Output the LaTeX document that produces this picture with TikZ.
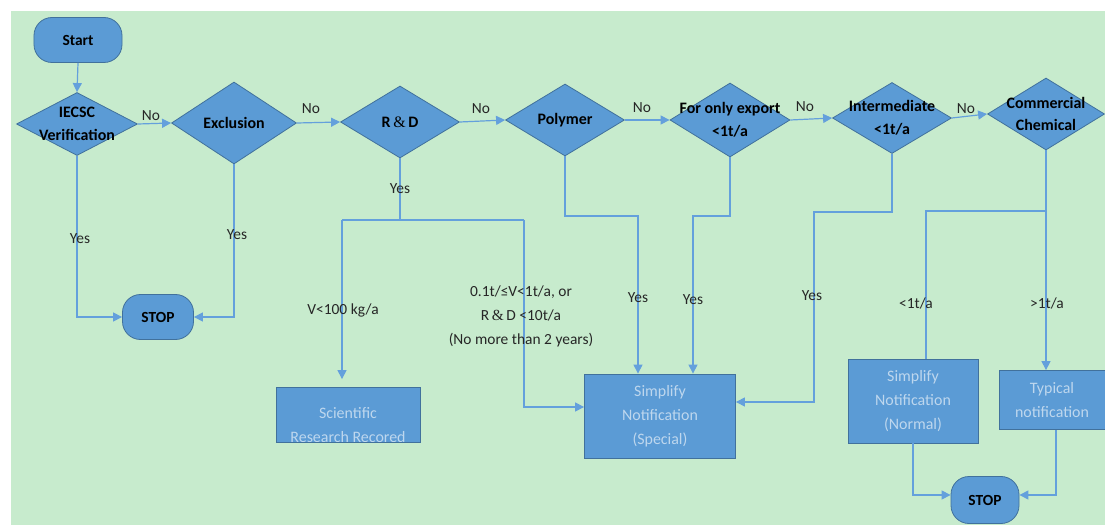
\documentclass[tikz,border=0pt]{standalone}
\usepackage{fontspec}
\setmainfont{Carlito}
\newfontfamily\ampfont{Liberation Serif}
\usetikzlibrary{shapes.geometric,arrows.meta}
\definecolor{bg}{RGB}{199,235,205}
\definecolor{boxfill}{RGB}{91,155,213}
\definecolor{boxdraw}{RGB}{65,113,156}
\definecolor{lineblue}{RGB}{100,160,220}
\definecolor{boxtext}{RGB}{190,215,238}
\newcommand{\RnD}{R\,{\ampfont\mdseries\&}\,D}
\begin{document}
\begin{tikzpicture}[x=1bp,y=-1bp,
 dec/.style={diamond, fill=boxfill, draw=boxdraw, line width=0.8bp, inner sep=0pt},
 dtext/.style={font=\fontsize{16}{23}\selectfont\bfseries, align=center, text=black, inner sep=0pt},
 term/.style={rectangle, rounded corners=18bp, fill=boxfill, draw=boxdraw, line width=0.8bp, font=\fontsize{15.5}{18}\selectfont\bfseries, inner sep=0pt},
 proc/.style={rectangle, fill=boxfill, draw=boxdraw, line width=0.8bp, font=\fontsize{16}{24}\selectfont, text=boxtext, align=center, inner sep=0pt},
 ln/.style={draw=lineblue, line width=1.2bp},
 arr/.style={ln, -{Triangle[length=9bp,width=9bp]}},
 lbl/.style={font=\fontsize{15.5}{24}\selectfont, text=black!85, align=center, inner sep=0pt}
]
\useasboundingbox (0,0) rectangle (1105,525);
\fill[bg] (11,11) rectangle (1105,525);

% terminators
\node[term, minimum width=88bp, minimum height=45bp] (start) at (78,40) {Start};
\node[term, minimum width=71bp, minimum height=45bp] (stop1) at (158,317) {STOP};
\node[term, minimum width=68bp, minimum height=47bp] (stop2) at (985,500) {STOP};

% decisions
\node[dec, minimum width=121bp, minimum height=63bp, label={[dtext]center:IECSC\\Verification}] (iecsc) at (77,124) {};
\node[dec, minimum width=125bp, minimum height=82bp, label={[dtext]center:Exclusion}] (excl) at (234,123) {};
\node[dec, minimum width=119bp, minimum height=72bp, label={[dtext]center:\RnD}] (rd) at (400,122) {};
\node[dec, minimum width=119bp, minimum height=72bp, label={[dtext]center:Polymer}] (poly) at (565,120) {};
\node[dec, minimum width=120bp, minimum height=74bp, label={[dtext]center:For only export\\{<}1t/a}] (exp) at (730,120) {};
\node[dec, minimum width=119bp, minimum height=71bp, label={[dtext]center:Intermediate\\{<}1t/a}] (inter) at (892,118) {};
\node[dec, minimum width=117bp, minimum height=72bp, label={[dtext]center:Commercial\\Chemical}] (comm) at (1046,114) {};

% process boxes
\node[proc, minimum width=144bp, minimum height=55bp,
  path picture={\node[font=\fontsize{16}{24}\selectfont, text=boxtext, align=center, inner sep=0pt] at ([yshift=-10bp]path picture bounding box.center) {Scientific\\Research Recored};}] (sci) at (348,415) {};
\node[proc, minimum width=151bp, minimum height=84bp] (spec) at (660,416) {Simplify\\Notification\\(Special)};
\node[proc, minimum width=130bp, minimum height=84bp] (norm) at (913,401) {Simplify\\Notification\\(Normal)};
\node[proc, minimum width=106bp, minimum height=59bp] (typ) at (1052,400) {Typical\\notification};

% bend points
\coordinate (rdj) at (400,220);
\coordinate (rdl) at (342,220);
\coordinate (rdr) at (524,220);
\coordinate (rdr2) at (524,407);
\coordinate (pb) at (638,216);
\coordinate (eb) at (693,216);
\coordinate (ib) at (814,212);
\coordinate (cj) at (1046,211);

% main chain
\draw[arr] (start.south) -- (iecsc.north);
\draw[arr] (iecsc.east) -- (excl.west);
\draw[arr] (excl.east) -- (rd.west);
\draw[arr] (rd.east) -- (poly.west);
\draw[arr] (poly.east) -- (exp.west);
\draw[arr] (exp.east) -- (inter.west);
\draw[arr] (inter.east) -- (comm.west);

% yes branches
\draw[arr] (iecsc.south) |- (stop1.west);
\draw[arr] (excl.south) |- (stop1.east);
\draw[ln] (rd.south) -- (rdj);
\draw[ln] (rdl) -- (rdr);
\draw[arr, shorten >=8bp] (rdl) -- (sci.north -| rdl);
\draw[arr] (rdr) -- (rdr2) -- (spec.west |- rdr2);
\draw[arr] (poly.south) |- (pb) -- (pb |- spec.north);
\draw[arr] (exp.south) |- (eb) -- (eb |- spec.north);
\draw[arr] (inter.south) |- (ib) |- ([yshift=14bp]spec.east);
\draw[ln] (comm.south) -- (cj);
\draw[ln] (cj) -| ([xshift=13bp]norm.north);
\draw[arr] (cj) -- (cj |- typ.north);
\draw[arr] (norm.south) |- ([yshift=5bp]stop2.west);
\draw[arr] ([xshift=4bp]typ.south) |- ([yshift=5bp]stop2.east);

% labels
\node[lbl] (n1) at (151,116) {No};
\node[lbl] (n2) at (311,109) {No};
\node[lbl] (n3) at (481,109) {No};
\node[lbl] (n4) at (642,108) {No};
\node[lbl] (n5) at (805,107) {No};
\node[lbl] (n6) at (966,109) {No};
\node[lbl] (y1) at (80,239) {Yes};
\node[lbl] (y2) at (237,235) {Yes};
\node[lbl] (y3) at (400,189) {Yes};
\node[lbl] (y4) at (638,298) {Yes};
\node[lbl] (y5) at (693,300) {Yes};
\node[lbl] (y6) at (812,296) {Yes};
\node[lbl] (v1) at (343,310) {V{<}100 kg/a};
\node[lbl] (v2) at (521,316) {0.1t/≤V{<}1t/a, or\\\RnD\ {<}10t/a\\(No more than 2 years)};
\node[lbl] (v3) at (916,303) {{<}1t/a};
\node[lbl] (v4) at (1047,303) {{>}1t/a};
\end{tikzpicture}
\end{document}
